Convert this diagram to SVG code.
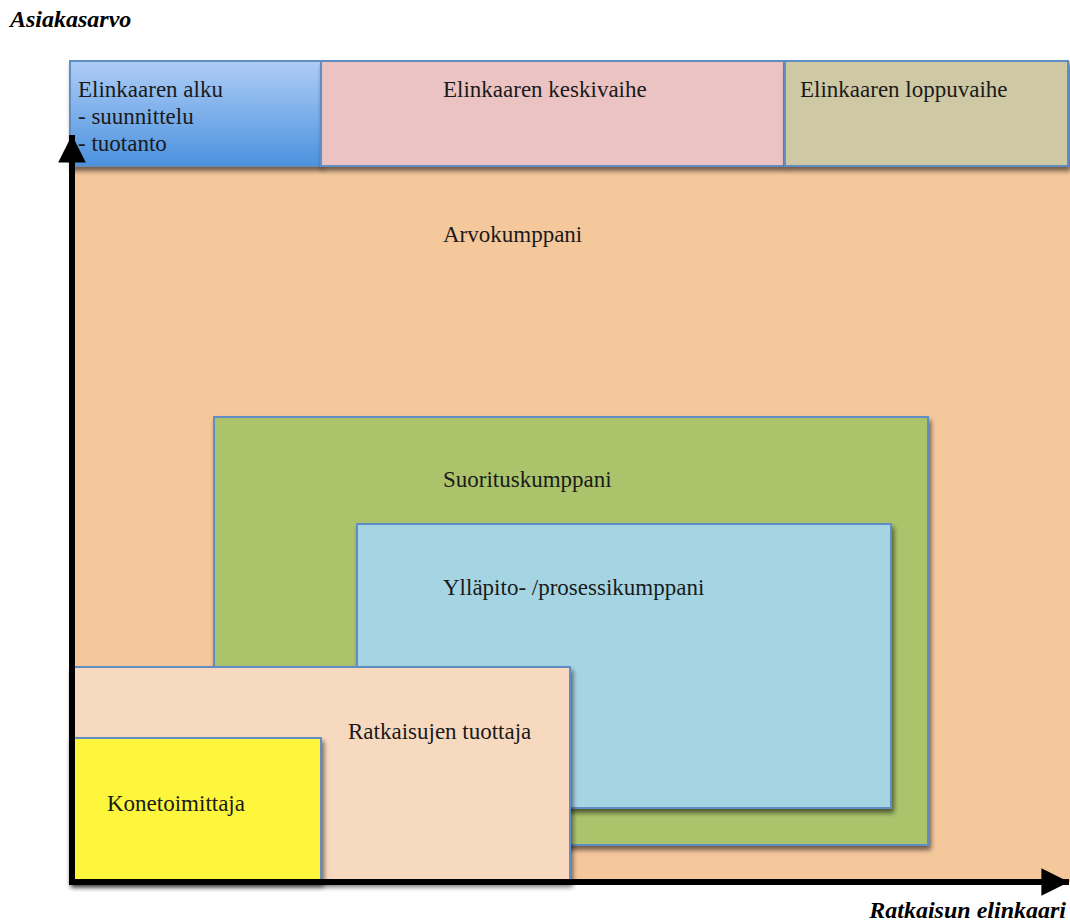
<svg xmlns="http://www.w3.org/2000/svg" width="1070" height="924" viewBox="0 0 1070 924">
<style>
.box{stroke:#5f8dc4;stroke-width:2;}
.t{font-size:23px;fill:#1a1a1a;}
.ax{font-size:24px;font-weight:bold;font-style:italic;fill:#000;}
.sh{filter:url(#shadow);}
</style>
<defs>
<linearGradient id="blueGrad" x1="0" y1="0" x2="0" y2="1">
<stop offset="0" stop-color="#afcdf6"/>
<stop offset="1" stop-color="#4b92df"/>
</linearGradient>
<filter id="shadow" x="-5%" y="-5%" width="115%" height="120%">
<feGaussianBlur in="SourceAlpha" stdDeviation="2.5"/>
<feOffset dx="2" dy="4" result="b"/>
<feComponentTransfer><feFuncA type="linear" slope="0.55"/></feComponentTransfer>
<feMerge><feMergeNode/><feMergeNode in="SourceGraphic"/></feMerge>
</filter>
<marker id="arrow" viewBox="0 0 10 10" refX="10" refY="5" markerWidth="4.6" markerHeight="4.6" orient="auto" markerUnits="strokeWidth">
<path d="M0,0 L10,5 L0,10 z" fill="#000"/>
</marker>
</defs>
<rect width="1070" height="924" fill="#fff"/>

<g font-family="Liberation Serif, DejaVu Serif, serif">
<g id="arvokumppani">
<rect x="70" y="61" width="1000" height="821" fill="#f5c89c"/>
<text class="t" x="443" y="242">Arvokumppani</text>
</g>

<g id="elinkaaren-alku">
<rect class="box sh" x="70" y="61" width="251" height="105" fill="url(#blueGrad)"/>
<text class="t" x="78" y="97">Elinkaaren alku</text>
<text class="t" x="78" y="124">- suunnittelu</text>
<text class="t" x="78" y="151">- tuotanto</text>
</g>

<g id="elinkaaren-keskivaihe">
<rect class="box sh" x="321" y="61" width="463" height="105" fill="#ebc3c2"/>
<text class="t" x="443" y="97">Elinkaaren keskivaihe</text>
</g>

<g id="elinkaaren-loppuvaihe">
<rect class="box sh" x="785" y="61" width="283" height="105" fill="#cfc8a4"/>
<text class="t" x="800" y="97">Elinkaaren loppuvaihe</text>
</g>

<g id="suorituskumppani">
<rect class="box sh" x="214" y="417" width="714" height="428" fill="#abc46c"/>
<text class="t" x="443" y="487">Suorituskumppani</text>
</g>

<g id="yllapito">
<rect class="box sh" x="357" y="524" width="534" height="284" fill="#a5d5e3"/>
<text class="t" x="443" y="595">Ylläpito- /prosessikumppani</text>
</g>

<g id="ratkaisujen-tuottaja">
<rect class="box sh" x="70" y="667" width="500" height="215" fill="#f7d9bf"/>
<text class="t" x="348" y="739">Ratkaisujen tuottaja</text>
</g>

<g id="konetoimittaja">
<rect class="box sh" x="70" y="738" width="251" height="144" fill="#fdf63c"/>
<text class="t" x="107" y="811">Konetoimittaja</text>
</g>

<g id="connectors">
<line x1="72" y1="884" x2="72" y2="135" stroke="#000" stroke-width="6" marker-end="url(#arrow)"/>
<line x1="69" y1="882" x2="1069" y2="882" stroke="#000" stroke-width="6" marker-end="url(#arrow)"/>
</g>

<text class="ax" x="10" y="27">Asiakasarvo</text>
<text class="ax" x="1066" y="918" text-anchor="end">Ratkaisun elinkaari</text>
</g>
</svg>
